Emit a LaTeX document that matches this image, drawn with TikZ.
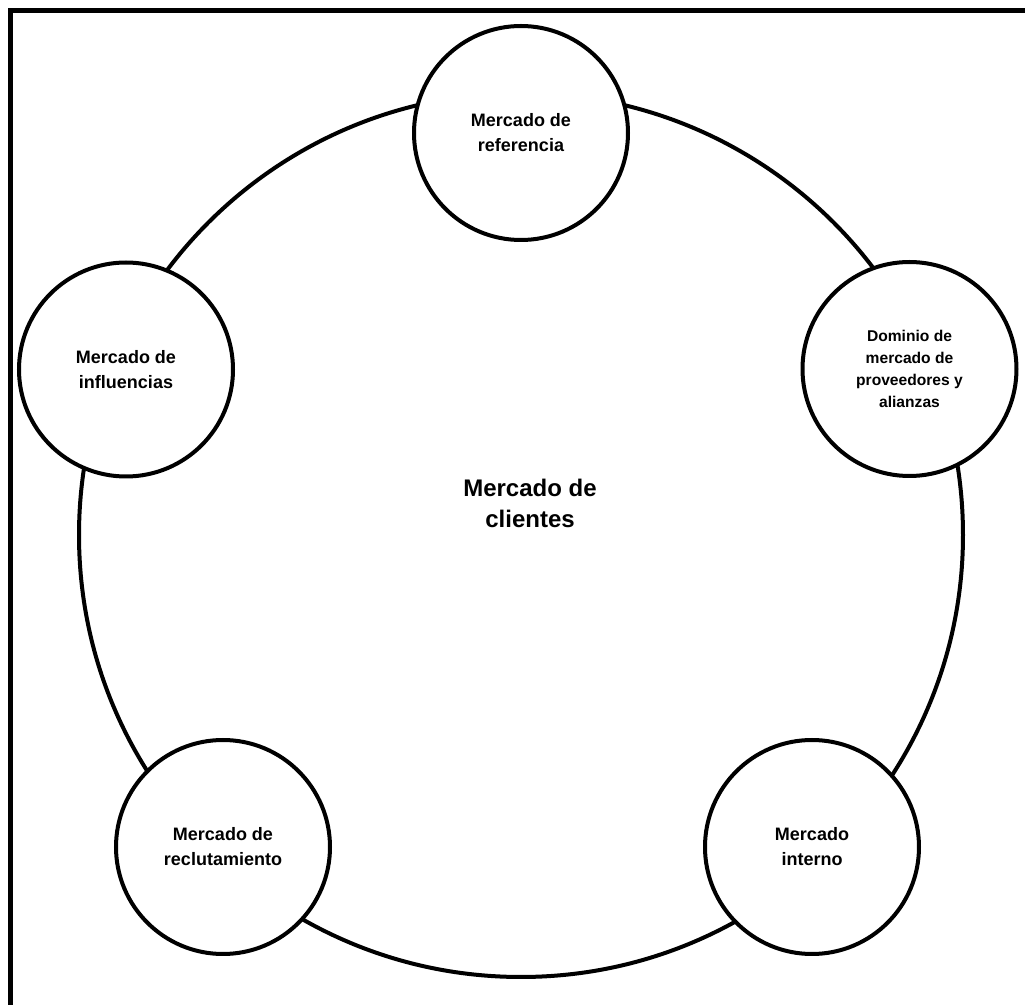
\documentclass[tikz,border=0pt]{standalone}
\usepackage{fontspec}
\setmainfont{Liberation Sans}
\begin{document}
\begin{tikzpicture}[x=0.5pt,y=-0.5pt,
  frame/.style={line width=2.3pt, line join=miter},
  bigring/.style={circle, draw, line width=2pt, inner sep=0pt, minimum size=442pt},
  ring/.style={circle, draw, line width=2pt, fill=white, inner sep=0pt,
    minimum size=107pt, align=center,
    font=\bfseries\fontsize{9}{12.5}\selectfont},
  smallring/.style={ring, font=\bfseries\fontsize{7.8}{10.9}\selectfont},
  centrelabel/.style={align=center, inner sep=0pt,
    font=\bfseries\fontsize{12}{15.5}\selectfont}]
\useasboundingbox (0,0) rectangle (1025,1005);
% outer frame (only its top and left sides fall on the page)
\coordinate (frameTR) at (1040,10.5);
\coordinate (frameTL) at (10.5,10.5);
\coordinate (frameBL) at (10.5,1020);
\draw[frame] (frameTR) -- (frameTL) -- (frameBL);
% central market
\node[bigring] (clientes) at (521,535) {};
\node[centrelabel] (clienteslabel) at (530,503) {Mercado de\\clientes};
% surrounding markets
\node[ring] (referencia) at (521,133) {Mercado de\\referencia};
\node[smallring] (proveedores) at (909.5,369) {Dominio de\\mercado de\\proveedores y\\alianzas};
\node[ring] (influencias) at (126,369.5) {Mercado de\\influencias};
\node[ring] (reclutamiento) at (223,847) {Mercado de\\reclutamiento};
\node[ring] (interno) at (812,847) {Mercado\\interno};
\end{tikzpicture}
\end{document}
